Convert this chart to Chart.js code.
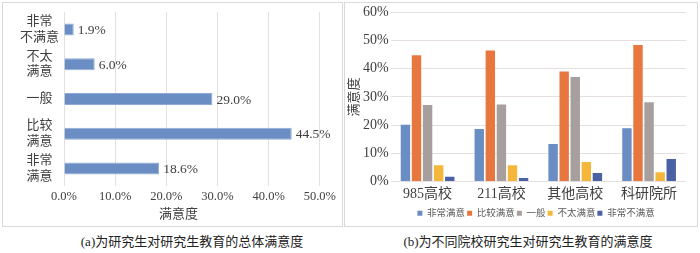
<!DOCTYPE html>
<html>
<head>
<meta charset="utf-8">
<script src="https://cdn.jsdelivr.net/npm/chart.js@4.4.1/dist/chart.umd.min.js"></script>
<style>
html, body { margin:0; padding:0; background:#fff; width:700px; height:253px; overflow:hidden; }
.panel { position:absolute; border:1px solid #d9d9d9; box-sizing:border-box; }
#boxA { left:2px; top:2px; width:341px; height:225px; }
#boxB { left:344px; top:2px; width:354px; height:225px; }
.wrap { position:absolute; }
#wrapA { left:2px; top:2px; }
#wrapB { left:344px; top:2px; }
.cap { position:absolute; top:231px; font:13px "Liberation Serif","Noto Sans CJK SC"; color:#222; white-space:nowrap; transform:translateX(-50%); }
</style>
</head>
<body>
<div class="panel" id="boxA"></div>
<div class="panel" id="boxB"></div>
<div class="wrap" id="wrapA"><canvas id="chartA" width="340" height="225"></canvas></div>
<div class="wrap" id="wrapB"><canvas id="chartB" width="384" height="226"></canvas></div>
<div class="cap" style="left:192px">(a)为研究生对研究生教育的总体满意度</div>
<div class="cap" style="left:528px">(b)为不同院校研究生对研究生教育的满意度</div>
<script>
// (a) overall satisfaction
var satLabels = [['非常','不满意'], ['不太','满意'], '一般', ['比较','满意'], ['非常','满意']];
var overall = [1.9, 6.0, 29.0, 44.5, 18.6];
var overallTicks = [0, 10, 20, 30, 40, 50];

// (b) by institution type
var schools = ['985高校', '211高校', '其他高校', '科研院所'];
var levels = ['非常满意', '比较满意', '一般', '不太满意', '非常不满意'];
var verySat   = [20.1, 18.6, 13.3, 18.9];
var fairlySat = [44.8, 46.5, 39.0, 48.4];
var neutral   = [27.1, 27.3, 37.1, 28.1];
var notVery   = [5.8, 5.8, 6.9, 3.3];
var veryNot   = [1.7, 1.2, 3.0, 8.0];
var levelColors = ['#6a8ec3', '#e8773f', '#a79f9d', '#f4b73b', '#4a62a5'];

var serif = '"Liberation Serif", "Noto Sans CJK SC"';
Chart.defaults.font.family = serif;
Chart.defaults.color = '#404040';
Chart.defaults.animation = false;

// value labels to the right of each bar
var valueLabels = {
    id: 'valueLabels',
    afterDatasetsDraw: function (chart) {
        var ctx = chart.ctx;
        var meta = chart.getDatasetMeta(0);
        ctx.save();
        ctx.font = '13.5px ' + serif;
        ctx.fillStyle = '#404040';
        ctx.textBaseline = 'middle';
        meta.data.forEach(function (bar, i) {
            ctx.fillText(overall[i].toFixed(1) + '%', bar.x + 4, bar.y + 1);
        });
        ctx.restore();
    }
};

new Chart(document.getElementById('chartA'), {
    type: 'bar',
    data: {
        labels: satLabels,
        datasets: [{
            data: overall,
            backgroundColor: '#6a8ec3',
            borderColor: '#8eaad4',
            borderWidth: 1,
            categoryPercentage: 0.8,
            barPercentage: 0.43
        }]
    },
    options: {
        responsive: false,
        indexAxis: 'y',
        layout: { padding: { left: 13, top: 10, right: 0, bottom: 0 } },
        scales: {
            x: {
                min: 0, max: 50,
                afterBuildTicks: function (s) { s.ticks = overallTicks.map(function (v) { return { value: v }; }); },
                ticks: {
                    callback: function (v) { return v.toFixed(1) + '%'; },
                    font: { size: 12.5, lineHeight: 0.8 }, padding: 6, maxRotation: 0
                },
                grid: { color: '#e6dfdf', drawTicks: false },
                border: { display: false }
            },
            y: {
                ticks: { autoSkip: false, crossAlign: 'center', font: { size: 13 }, padding: 5 },
                grid: { display: false, drawTicks: false },
                border: { display: false },
                afterFit: function (s) { s.paddingTop = 0; s.paddingBottom = 0; }
            }
        },
        plugins: {
            legend: { display: false },
            tooltip: { enabled: false },
            title: {
                display: true, position: 'bottom', text: '满意度',
                font: { size: 13, weight: 'normal', lineHeight: 1 }, color: '#404040',
                padding: { top: 0, bottom: 6 }
            }
        }
    },
    plugins: [valueLabels]
});

var seriesB = [verySat, fairlySat, neutral, notVery, veryNot];
new Chart(document.getElementById('chartB'), {
    type: 'bar',
    data: {
        labels: schools,
        datasets: seriesB.map(function (vals, i) {
            return {
                label: levels[i],
                data: vals,
                yAxisID: 'y',
                backgroundColor: levelColors[i],
                categoryPercentage: 0.75,
                barPercentage: 0.85
            };
        })
    },
    options: {
        responsive: false,
        layout: { padding: { left: 0, top: 3, right: 0, bottom: 0 } },
        scales: {
            x: {
                grid: { display: false, drawTicks: false },
                border: { display: false },
                ticks: { font: { size: 14, lineHeight: 0.5 }, padding: 9 }
            },
            y: {
                min: 0, max: 60,
                ticks: {
                    stepSize: 10,
                    callback: function (v) { return v + '%'; },
                    font: { size: 14 }, padding: 2
                },
                grid: { color: '#e6dfdf', drawTicks: false },
                border: { display: false },
                title: {
                    display: true, text: '满意度', font: { size: 13, lineHeight: 1 }, color: '#404040',
                    padding: { top: 4, bottom: 0 }
                }
            },
            pad: {
                type: 'linear', position: 'right',
                grid: { display: false, drawTicks: false },
                ticks: { display: false },
                border: { display: false },
                afterFit: function (s) { s.width = 42; }
            }
        },
        plugins: {
            tooltip: { enabled: false },
            legend: {
                position: 'bottom',
                labels: { boxWidth: 5, boxHeight: 5, font: { size: 9.5 }, color: '#595959', padding: 2 }
            }
        }
    }
});
</script>
</body>
</html>
